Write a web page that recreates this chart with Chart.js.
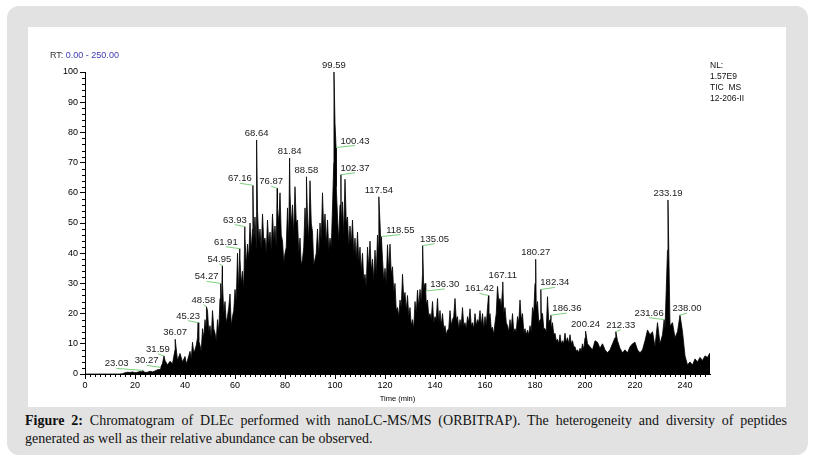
<!DOCTYPE html>
<html>
<head>
<meta charset="utf-8">
<title>Chromatogram</title>
<script src="https://cdn.jsdelivr.net/npm/chart.js@4/dist/chart.umd.min.js"></script>
<style>
  body { margin: 0; background: #fff; width: 813px; height: 462px; overflow: hidden; }
  #frame { position: absolute; left: 7px; top: 6px; width: 801px; height: 449px; background: #e2e2e2; border-radius: 12px; }
  #panel { position: absolute; left: 28px; top: 27px; width: 758px; height: 380px; background: #fff; }
  #panel canvas { position: absolute; left: 0; top: 0; }
  #rt { position: absolute; left: 22px; top: 23px; font: 9px "Liberation Sans", Arial, sans-serif; color: #333; white-space: nowrap; }
  #rt span { color: #3b3bb0; }
  #nl { position: absolute; left: 682px; top: 33px; font: 8.5px "Liberation Sans", Arial, sans-serif; color: #111; line-height: 11px; }
  #caption { position: absolute; left: 25px; top: 412px; width: 762px; font: 14px "Liberation Serif", "Times New Roman", serif; color: #111; line-height: 17.5px; text-align: justify; }
</style>
</head>
<body>
<div id="frame"></div>
<div id="panel">
  <canvas id="chrom" width="758" height="380"></canvas>
  <div id="rt">RT: <span>0.00 - 250.00</span></div>
  <div id="nl">NL:<br>1.57E9<br>TIC&nbsp; MS<br>12-206-II</div>
</div>
<div id="caption"><b>Figure 2:</b> Chromatogram of DLEc performed with nanoLC-MS/MS (ORBITRAP). The heterogeneity and diversity of peptides generated as well as their relative abundance can be observed.</div>

<script>
'use strict'

// relative abundance, one value per whole minute (0 .. 250)
let minuteAbundance = [
  0, 0, 0, 0, 0, 0, 0, 0, 0, 0,
  0, 0, 0, 0, 0, 0.1, 0.4, 0.6, 0.5, 0.7,
  0.4, 0.6, 0.8, 0.7, 0.5, 0.6, 0.9, 0.7, 1.0, 1.4,
  1.5, 3.5, 4.5, 3.0, 4.2, 3.4, 8.0, 4.5, 6.8, 4.0,
  5.8, 4.5, 7.5, 10.5, 8.0, 12.0, 9.5, 15.0, 18.0, 21.0,
  16.0, 21.0, 13.5, 18.0, 25.0, 30.0, 24.0, 19.0, 26.5, 19.0,
  28.0, 40.0, 38.0, 34.0, 45.0, 43.0, 50.0, 48.0, 52.0, 54.0,
  48.0, 53.0, 45.0, 51.0, 47.0, 53.0, 49.0, 55.0, 60.0, 44.0,
  40.0, 55.0, 60.0, 56.0, 62.0, 51.0, 45.0, 38.0, 55.0, 52.0,
  64.0, 47.0, 38.0, 48.0, 50.0, 60.0, 53.0, 51.0, 45.0, 55.0,
  83.0, 52.0, 56.0, 57.0, 64.5, 52.0, 49.0, 51.0, 45.0, 47.0,
  42.0, 40.0, 33.0, 42.0, 44.0, 38.0, 41.0, 46.0, 50.0, 38.0,
  35.0, 42.8, 43.0, 35.5, 30.0, 22.0, 24.5, 33.0, 27.0, 26.0,
  22.0, 18.0, 24.0, 27.8, 28.0, 33.0, 30.0, 24.5, 20.0, 24.0,
  19.0, 25.0, 21.0, 20.0, 16.0, 14.6, 21.0, 18.0, 25.0, 19.0,
  18.0, 22.0, 17.0, 19.0, 21.6, 17.0, 20.0, 18.0, 21.0, 20.0,
  19.0, 22.0, 20.0, 15.5, 17.0, 29.0, 25.0, 28.0, 22.0, 16.0,
  18.0, 20.0, 15.0, 19.0, 24.5, 20.0, 15.0, 14.5, 16.0, 22.0,
  30.0, 24.0, 18.0, 20.0, 15.0, 25.6, 18.0, 17.0, 13.5, 11.5,
  13.0, 11.0, 13.5, 12.0, 13.0, 11.0, 9.0, 8.0, 8.5, 10.0,
  12.0, 10.0, 9.0, 8.0, 11.0, 10.5, 8.5, 10.0, 8.0, 7.0,
  8.0, 10.0, 12.0, 11.0, 8.5, 7.0, 8.0, 7.0, 9.0, 10.0,
  10.5, 8.0, 7.0, 8.0, 11.0, 14.6, 13.0, 14.0, 9.0, 17.0,
  10.0, 13.0, 15.0, 41.0, 16.0, 17.0, 12.0, 14.0, 17.0, 14.0,
  6.0, 3.0, 4.0, 3.0, 5.0, 4.0, 5.5, 4.5, 6.0, 5.5,
  7.0
];

// extra scans in the busy part, at 40.5, 41.5 ... 199.5 min (mostly the dips between spikes)
let halfMinuteStart = 40.5;
let halfMinuteAbundance = [
  3.5, 6.0, 5.0, 7.0, 9.5, 11.0, 7.5, 12.0, 15.0, 14.0,
  12.0, 15.0, 11.0, 14.0, 21.0, 20.0, 17.0, 22.0, 16.0, 21.0,
  24.0, 27.0, 30.0, 28.0, 36.0, 38.0, 41.0, 44.0, 42.0, 44.0,
  41.0, 44.0, 40.0, 43.0, 41.0, 44.0, 42.0, 50.0, 46.0, 37.0,
  42.0, 44.0, 49.0, 46.0, 50.0, 40.0, 36.0, 42.0, 46.0, 44.0,
  50.0, 36.0, 40.0, 39.0, 44.0, 47.0, 43.0, 41.0, 42.0, 70.0,
  62.0, 44.0, 50.0, 46.0, 50.0, 42.0, 43.0, 40.0, 38.0, 37.0,
  34.0, 31.0, 29.0, 35.0, 34.0, 31.0, 33.0, 40.0, 40.0, 31.0,
  30.0, 34.0, 33.0, 27.0, 21.0, 19.0, 22.0, 25.0, 21.0, 19.0,
  16.0, 15.0, 20.0, 22.0, 24.0, 28.0, 23.0, 19.0, 18.0, 17.0,
  18.0, 17.0, 16.0, 15.0, 13.0, 15.0, 16.0, 19.0, 18.0, 15.0,
  16.0, 16.0, 15.0, 17.0, 16.0, 15.0, 16.0, 17.0, 16.0, 15.0,
  16.0, 18.0, 15.0, 13.0, 20.0, 24.0, 22.0, 20.0, 17.0, 14.0,
  15.0, 14.0, 14.0, 17.0, 18.0, 14.0, 13.0, 13.0, 14.0, 20.0,
  22.0, 17.0, 20.0, 15.0, 14.0, 17.0, 15.0, 13.0, 11.0, 10.0,
  10.0, 10.0, 10.5, 10.0, 10.0, 9.0, 7.5, 7.0, 7.5, 8.0
];

// the labelled apexes (retention time in min, relative abundance)
let peakTimes = [23.03, 30.27, 31.59, 36.07, 45.23, 48.58, 54.27, 54.95, 61.91, 63.93,
  67.16, 68.64, 76.87, 81.84, 88.58, 99.59, 100.43, 102.37, 117.54, 118.55,
  135.05, 136.30, 161.42, 167.11, 180.27, 182.34, 186.36, 200.24, 212.33, 231.66,
  233.19, 238.00];
let peakHeights = [1.2, 2.2, 6.0, 11.5, 17.0, 22.3, 30.0, 35.8, 41.5, 48.8,
  62.5, 77.5, 61.5, 71.5, 65.3, 100, 75.0, 66.0, 58.7, 45.5,
  42.5, 27.5, 26.0, 30.5, 38.0, 28.0, 19.5, 14.2, 14.0, 18.0,
  57.6, 19.5];

let xTickLabels = [0, 20, 40, 60, 80, 100, 120, 140, 160, 180, 200, 220, 240];
let yTickLabels = [0, 10, 20, 30, 40, 50, 60, 70, 80, 90, 100];

// how far (px) each label sits left/right of its apex, 0 = straight above with no leader
const labelShift = [-26, -14, -6, 0, -10, -3, -14, -3, -14, -10,
  -13, 0, -6, 0, 0, 0, 19, 14, 0, 19,
  12, 19, -9, 0, 0, 14, 16, 0, 5, -15,
  0, 7];

// merge the minute grid, the in-between scans and the apexes into one sorted trace
function buildTrace() {
  let pts = [];
  for (let i = 0; i < minuteAbundance.length; i++) {
    if (!peakTimes.includes(i)) pts.push({ x: i, y: minuteAbundance[i] });
  }
  for (let i = 0; i < halfMinuteAbundance.length; i++) {
    pts.push({ x: halfMinuteStart + i, y: halfMinuteAbundance[i] });
  }
  for (let i = 0; i < peakTimes.length; i++) {
    pts.push({ x: peakTimes[i], y: peakHeights[i] });
  }
  pts.sort((a, b) => a.x - b.x);
  return pts;
}

// minor ticks every 2 units + the Xcalibur style peak labels
const decorations = {
  id: 'decorations',
  afterDraw(chart) {
    const ctx = chart.ctx;
    const xs = chart.scales.x;
    const ys = chart.scales.y;
    ctx.save();
    ctx.strokeStyle = '#000';
    ctx.lineWidth = 1;
    ctx.beginPath();
    for (let t = 2; t < 250; t += 2) {
      if (t % 20 === 0) continue;
      let px = Math.round(xs.getPixelForValue(t)) + 0.5;
      ctx.moveTo(px, ys.bottom);
      ctx.lineTo(px, ys.bottom + 3);
    }
    for (let v = 2; v < 100; v += 2) {
      if (v % 10 === 0) continue;
      let py = Math.round(ys.getPixelForValue(v)) + 0.5;
      ctx.moveTo(xs.left - 3, py);
      ctx.lineTo(xs.left, py);
    }
    ctx.stroke();

    ctx.font = '9.5px "Liberation Sans", Arial, sans-serif';
    ctx.textAlign = 'center';
    ctx.textBaseline = 'alphabetic';
    for (let i = 0; i < peakTimes.length; i++) {
      let px = xs.getPixelForValue(peakTimes[i]);
      let py = ys.getPixelForValue(peakHeights[i]);
      let tx = px + labelShift[i];
      let base = py - 4;
      if (labelShift[i] !== 0) {
        ctx.strokeStyle = '#7dcf7d';
        ctx.beginPath();
        ctx.moveTo(tx, base + 2);
        ctx.lineTo(px, py);
        ctx.stroke();
      }
      ctx.fillStyle = '#1a1a1a';
      ctx.fillText(peakTimes[i].toFixed(2), tx, base);
    }
    ctx.restore();
  }
};

let canvasChart = document.getElementById('chrom');
const myChart = new Chart(canvasChart, {
  type: 'line',
  data: {
    datasets: [{
      data: buildTrace(),
      borderColor: '#000',
      backgroundColor: '#000',
      borderWidth: 0.8,
      pointRadius: 0,
      fill: 'origin',
      tension: 0
    }]
  },
  options: {
    responsive: false,
    animation: false,
    layout: { padding: { left: 20, right: 76, top: 45, bottom: 0 } },
    plugins: { legend: { display: false }, tooltip: { enabled: false } },
    scales: {
      x: {
        type: 'linear',
        min: 0,
        max: 250,
        afterBuildTicks: (scale) => { scale.ticks = xTickLabels.map(v => ({ value: v })); },
        afterFit: (scale) => { scale.height = 33; },
        ticks: { color: '#000', font: { size: 9, family: 'Liberation Sans' }, padding: 1, maxRotation: 0, autoSkip: false },
        grid: { drawOnChartArea: false, tickLength: 5, color: '#000' },
        border: { color: '#000' },
        title: { display: true, text: 'Time (min)', color: '#000', font: { size: 7.5, family: 'Liberation Sans' }, padding: { top: 0, bottom: 4 } }
      },
      y: {
        min: 0,
        max: 100,
        afterBuildTicks: (scale) => { scale.ticks = yTickLabels.map(v => ({ value: v })); },
        afterFit: (scale) => { scale.width = 37; },
        ticks: { color: '#000', font: { size: 9, family: 'Liberation Sans' }, padding: 2 },
        grid: { drawOnChartArea: false, tickLength: 5, color: '#000' },
        border: { color: '#000' }
      }
    }
  },
  plugins: [decorations]
});
</script>
</body>
</html>
